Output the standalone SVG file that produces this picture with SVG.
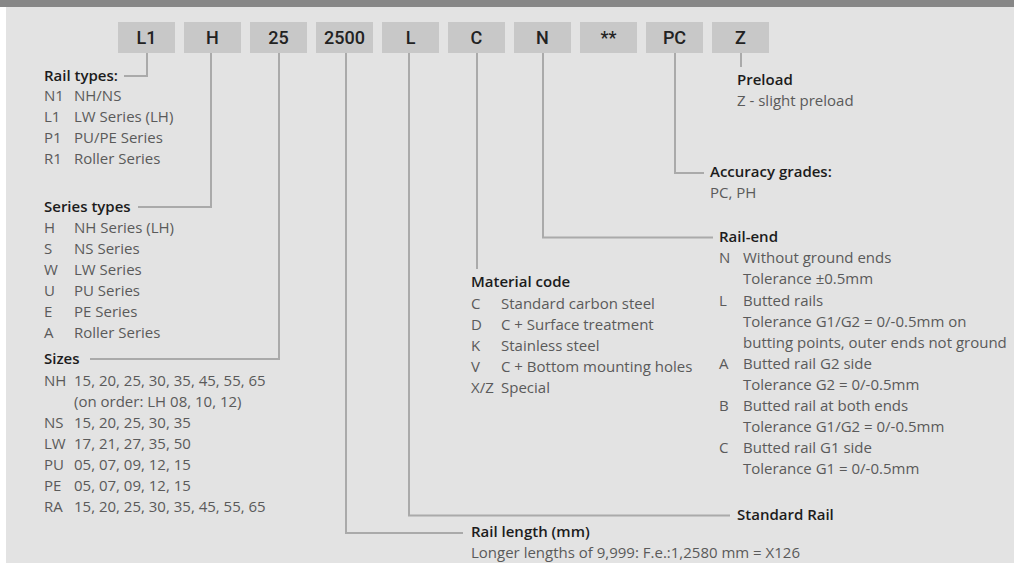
<svg xmlns="http://www.w3.org/2000/svg" width="1014" height="563" viewBox="0 0 1014 563">
<style>
.bg{fill:#e3e3e3}
.bar{fill:#878787}
.box{fill:#c8c8c8}
.bt{font-family:Roboto,"Liberation Sans",sans-serif;font-size:18px;font-weight:500;fill:#222;text-anchor:middle}
.h{font-family:"Open Sans","Liberation Sans",sans-serif;font-size:15px;font-weight:600;fill:#1c1c1c}
.t{font-family:"Open Sans","Liberation Sans",sans-serif;font-size:15px;fill:#5a5a5a}
.ln{fill:none;stroke:#aaaaaa;stroke-width:2}
</style>
<rect x="0" y="0" width="1014" height="563" fill="#ffffff"/>
<rect class="bg" x="6" y="0" width="1008" height="563"/>
<rect class="bar" x="0" y="0" width="1014" height="7"/>

<g id="connectors">
<polyline class="ln" points="147,53 147,76 124,76"/>
<polyline class="ln" points="211,53 211,207 138,207"/>
<polyline class="ln" points="279,53 279,359 90,359"/>
<polyline class="ln" points="346,53 346,533 463,533"/>
<polyline class="ln" points="409,53 409,515.5 730,515.5"/>
<polyline class="ln" points="477,53 477,269"/>
<polyline class="ln" points="543,53 543,237.5 713,237.5"/>
<polyline class="ln" points="675,53 675,173 704,173"/>
<polyline class="ln" points="741,53 741,67"/>
</g>

<g id="box-L1"><rect class="box" x="118" y="22" width="57" height="31"/><text class="bt" x="146.5" y="43.5">L1</text></g>
<g id="box-H"><rect class="box" x="184" y="22" width="57" height="31"/><text class="bt" x="212.5" y="43.5">H</text></g>
<g id="box-25"><rect class="box" x="250" y="22" width="57" height="31"/><text class="bt" x="278.5" y="43.5">25</text></g>
<g id="box-2500"><rect class="box" x="316" y="22" width="57" height="31"/><text class="bt" x="344.5" y="43.5">2500</text></g>
<g id="box-L"><rect class="box" x="382" y="22" width="57" height="31"/><text class="bt" x="410.5" y="43.5">L</text></g>
<g id="box-C"><rect class="box" x="448" y="22" width="57" height="31"/><text class="bt" x="476.5" y="43.5">C</text></g>
<g id="box-N"><rect class="box" x="514" y="22" width="57" height="31"/><text class="bt" x="542.5" y="43.5">N</text></g>
<g id="box-stars"><rect class="box" x="580" y="22" width="57" height="31"/><text class="bt" x="608.5" y="43.5">**</text></g>
<g id="box-PC"><rect class="box" x="646" y="22" width="57" height="31"/><text class="bt" x="674.5" y="43.5">PC</text></g>
<g id="box-Z"><rect class="box" x="712" y="22" width="57" height="31"/><text class="bt" x="740.5" y="43.5">Z</text></g>

<g id="rail-types">
<text class="h" x="44" y="80.5">Rail types:</text>
<text class="t" x="44" y="101">N1</text><text class="t" x="74" y="101">NH/NS</text>
<text class="t" x="44" y="122">L1</text><text class="t" x="74" y="122">LW Series (LH)</text>
<text class="t" x="44" y="143">P1</text><text class="t" x="74" y="143">PU/PE Series</text>
<text class="t" x="44" y="164">R1</text><text class="t" x="74" y="164">Roller Series</text>
</g>

<g id="series-types">
<text class="h" x="44" y="211.5">Series types</text>
<text class="t" x="44" y="232.5">H</text><text class="t" x="74" y="232.5">NH Series (LH)</text>
<text class="t" x="44" y="253.5">S</text><text class="t" x="74" y="253.5">NS Series</text>
<text class="t" x="44" y="274.5">W</text><text class="t" x="74" y="274.5">LW Series</text>
<text class="t" x="44" y="295.5">U</text><text class="t" x="74" y="295.5">PU Series</text>
<text class="t" x="44" y="316.5">E</text><text class="t" x="74" y="316.5">PE Series</text>
<text class="t" x="44" y="337.5">A</text><text class="t" x="74" y="337.5">Roller Series</text>
</g>

<g id="sizes">
<text class="h" x="44" y="363.5">Sizes</text>
<text class="t" x="44" y="385.5">NH</text><text class="t" x="74" y="385.5">15, 20, 25, 30, 35, 45, 55, 65</text>
<text class="t" x="74" y="406.5">(on order: LH 08, 10, 12)</text>
<text class="t" x="44" y="427.5">NS</text><text class="t" x="74" y="427.5">15, 20, 25, 30, 35</text>
<text class="t" x="44" y="448.5">LW</text><text class="t" x="74" y="448.5">17, 21, 27, 35, 50</text>
<text class="t" x="44" y="469.5">PU</text><text class="t" x="74" y="469.5">05, 07, 09, 12, 15</text>
<text class="t" x="44" y="490.5">PE</text><text class="t" x="74" y="490.5">05, 07, 09, 12, 15</text>
<text class="t" x="44" y="511.5">RA</text><text class="t" x="74" y="511.5">15, 20, 25, 30, 35, 45, 55, 65</text>
</g>

<g id="rail-length">
<text class="h" x="471" y="537">Rail length (mm)</text>
<text class="t" x="471" y="558">Longer lengths of 9,999: F.e.:1,2580 mm = X126</text>
</g>

<g id="standard-rail">
<text class="h" x="737" y="520">Standard Rail</text>
</g>

<g id="material-code">
<text class="h" x="471" y="287">Material code</text>
<text class="t" x="471" y="308.5">C</text><text class="t" x="501" y="308.5">Standard carbon steel</text>
<text class="t" x="471" y="329.5">D</text><text class="t" x="501" y="329.5">C + Surface treatment</text>
<text class="t" x="471" y="350.5">K</text><text class="t" x="501" y="350.5">Stainless steel</text>
<text class="t" x="471" y="371.5">V</text><text class="t" x="501" y="371.5">C + Bottom mounting holes</text>
<text class="t" x="471" y="392.5">X/Z</text><text class="t" x="501" y="392.5">Special</text>
</g>

<g id="rail-end">
<text class="h" x="719" y="242">Rail-end</text>
<text class="t" x="719" y="263">N</text><text class="t" x="743" y="263">Without ground ends</text>
<text class="t" x="743" y="284">Tolerance ±0.5mm</text>
<text class="t" x="719" y="305.5">L</text><text class="t" x="743" y="305.5">Butted rails</text>
<text class="t" x="743" y="326.5">Tolerance G1/G2 = 0/-0.5mm on</text>
<text class="t" x="743" y="347.5">butting points, outer ends not ground</text>
<text class="t" x="719" y="368.5">A</text><text class="t" x="743" y="368.5">Butted rail G2 side</text>
<text class="t" x="743" y="389.5">Tolerance G2 = 0/-0.5mm</text>
<text class="t" x="719" y="410.5">B</text><text class="t" x="743" y="410.5">Butted rail at both ends</text>
<text class="t" x="743" y="431.5">Tolerance G1/G2 = 0/-0.5mm</text>
<text class="t" x="719" y="452.5">C</text><text class="t" x="743" y="452.5">Butted rail G1 side</text>
<text class="t" x="743" y="473.5">Tolerance G1 = 0/-0.5mm</text>
</g>

<g id="accuracy">
<text class="h" x="710" y="177">Accuracy grades:</text>
<text class="t" x="710" y="197.5">PC, PH</text>
</g>

<g id="preload">
<text class="h" x="737" y="85">Preload</text>
<text class="t" x="737" y="106">Z - slight preload</text>
</g>
</svg>
